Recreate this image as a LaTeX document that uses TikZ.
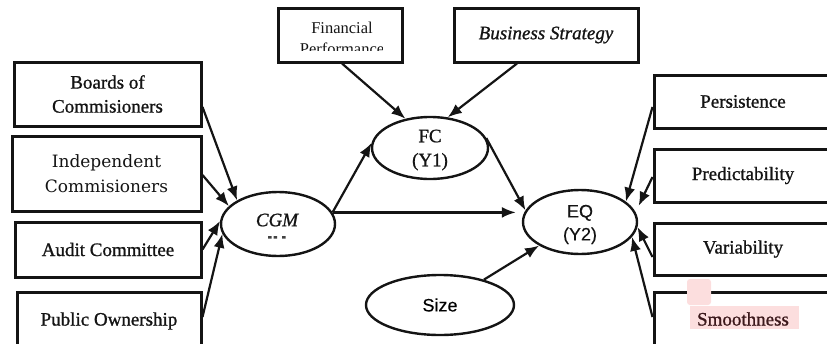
\documentclass[tikz,border=0pt]{standalone}
\usepackage{fontspec}
\setmainfont{Liberation Serif}
\newfontfamily\serifbold{Liberation Serif}[FakeBold=1.0]
\newfontfamily\serifboldit{Liberation Serif Italic}[FakeBold=1.0]
\newfontfamily\sansf{Liberation Sans}[FakeBold=0.25]
\newfontfamily\dvs{DejaVu Serif}
\usetikzlibrary{shapes.geometric,arrows.meta,calc}
\definecolor{ink}{RGB}{20,20,20}
\definecolor{hl}{RGB}{252,222,222}
\definecolor{redink}{RGB}{60,25,28}
\begin{document}
\begin{tikzpicture}[x=1pt,y=-1pt,
 box/.style={draw=ink,line width=3pt,rectangle,inner sep=0pt,align=center,text=ink,font=\serifbold\fontsize{19}{24}\selectfont},
 ell/.style={draw=ink,line width=2.4pt,ellipse,inner sep=0pt},
 lbl/.style={inner sep=0pt,align=center,text=ink},
 arr/.style={draw=ink,line width=2.2pt,-{Latex[length=14pt,width=11pt]}}]
\useasboundingbox (0,0) rectangle (827,343);
\clip (0,0) rectangle (827,343);
% left boxes
\node[box,minimum width=187pt,minimum height=64pt] (boards) at (107.5,94) {Boards of\\Commisioners};
\node[box,minimum width=189pt,minimum height=75pt,font=\dvs\fontsize{17}{25}\selectfont] (indep) at (106.5,173.5) {Independent\\Commisioners};
\node[box,minimum width=186pt,minimum height=55pt] (audit) at (108,249.5) {Audit Committee};
\node[box,minimum width=184pt,minimum height=58pt] (public) at (109,321) {Public Ownership};
% top boxes
\node[box,minimum width=124pt,minimum height=54pt] (fp) at (340,35) {};
\node[lbl,font=\fontsize{16.5}{20}\selectfont] (fpa) at (342,28) {Financial};
\begin{scope}
\clip (280,10) rectangle (382,50);
\node[lbl,anchor=base,font=\fontsize{16.5}{20}\selectfont] (fpb) at (342,54) {Performance};
\end{scope}
\node[box,minimum width=184pt,minimum height=54pt,font=\serifboldit\fontsize{19}{24}\selectfont] (bs) at (546,35) {Business Strategy};
% right boxes
\node[box,minimum width=178pt,minimum height=53pt] (pers) at (743,101.5) {Persistence};
\node[box,minimum width=178pt,minimum height=53pt] (pred) at (743,175.5) {Predictability};
\node[box,minimum width=178pt,minimum height=52pt] (var) at (743,249) {Variability};
\fill[hl] (690,306) rectangle (799,329);
\node[box,minimum width=178pt,minimum height=54pt,text=redink] (smooth) at (743,319) {Smoothness};
\fill[hl,rounded corners=3pt] (687,279) rectangle (711,305);
% ellipses
\node[ell,minimum width=114pt,minimum height=64pt] (cgm) at (278,224) {};
\node[lbl,font=\serifboldit\fontsize{19}{20}\selectfont] (cgmt) at (277,220) {CGM};
\fill[ink!80] (268,236) rectangle (271.5,238.5) (273.5,236) rectangle (277,238.5) (282,236) rectangle (285.5,238.5);
\node[ell,minimum width=116pt,minimum height=62pt] (fc) at (430,148) {};
\node[lbl,font=\serifbold\fontsize{19}{24}\selectfont] (fct) at (430,150) {FC\\(Y1)};
\node[ell,minimum width=114pt,minimum height=64pt] (eq) at (580,222) {};
\node[lbl,font=\sansf\fontsize{18}{23}\selectfont] (eqt) at (580,224.5) {EQ\\(Y2)};
\node[ell,minimum width=148pt,minimum height=60pt,font=\sansf\fontsize{18}{20}\selectfont] (size) at (440,305) {Size};
% arrows into CGM
\draw[arr] ([yshift=-13pt]boards.east) -- (cgm.150);
\draw[arr] ([yshift=-1.5pt]indep.east) -- (cgm.160);
\draw[arr] (audit.east) -- (cgm.177);
\draw[arr] ([yshift=4pt]public.east) -- (cgm.190);
% middle
\draw[arr] (cgm.12) -- (fc.175);
\draw[arr,shorten >=6pt] (cgm.12) -- (cgm.12 -| eq.west);
\draw[arr] (fc.10) -- (eq.168);
\draw[arr] (size.30) -- (eq.210);
\draw[arr] ([xshift=2pt]fp.south) -- (fc.130);
\draw[arr] ([xshift=-29pt]bs.south) -- (fc.60);
% right
\draw[arr] ([yshift=-5.5pt]pers.west) -- (eq.24);
\draw[arr,shorten >=7pt] ([yshift=-1.5pt]pred.west) -- (eq.10);
\draw[arr] ([yshift=-8pt]var.west) -- (eq.-5);
\draw[arr] ([yshift=2pt]smooth.west) -- (eq.-16);
\end{tikzpicture}
\end{document}
